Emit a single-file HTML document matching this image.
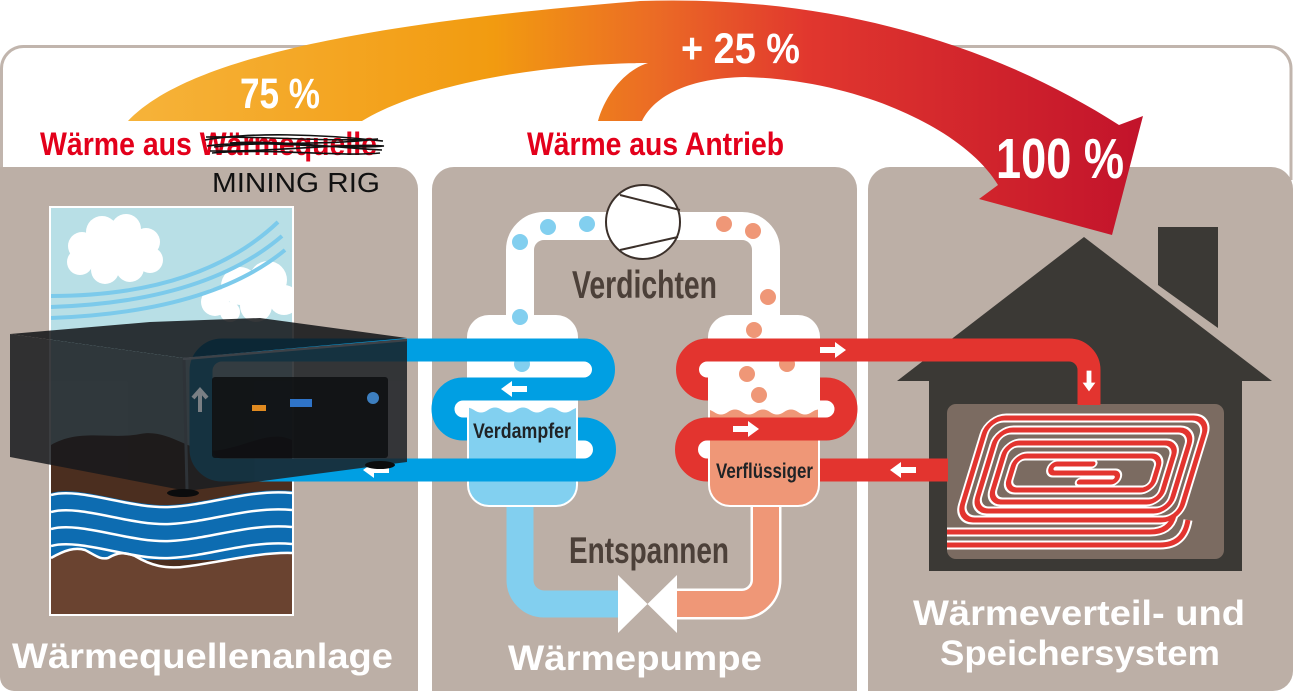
<!DOCTYPE html>
<html><head><meta charset="utf-8">
<style>html,body{margin:0;padding:0;background:#fff;overflow:hidden}svg{display:block}</style>
</head><body>
<svg width="1306" height="691" viewBox="0 0 1306 691" xmlns="http://www.w3.org/2000/svg">
<defs>
<linearGradient id="arc" x1="128" y1="0" x2="1143" y2="0" gradientUnits="userSpaceOnUse">
<stop offset="0" stop-color="#f6b33a"/>
<stop offset="0.36" stop-color="#f29b10"/>
<stop offset="0.52" stop-color="#eb6b25"/>
<stop offset="0.67" stop-color="#e1372e"/>
<stop offset="1" stop-color="#c2132b"/>
</linearGradient>
<clipPath id="pic"><rect x="51" y="208" width="241" height="406"/></clipPath>
<clipPath id="ev"><rect x="469" y="317" width="107" height="188" rx="20"/></clipPath>
<clipPath id="cd"><rect x="710" y="317" width="108" height="188" rx="20"/></clipPath>
<path id="ar" d="M-13 -3 H2 V-8 L13 0 L2 8 V3 H-13 Z" fill="#fff"/>
</defs>

<rect width="1306" height="691" fill="#fff"/>

<!-- outer frame line -->
<path d="M1.5 180 V68.5 A22 22 0 0 1 23.5 46.5 H1269 A22 22 0 0 1 1291 68.5 V180" fill="none" stroke="#c1b5ad" stroke-width="3"/>

<!-- panels -->
<path d="M0 167 H396 A22 22 0 0 1 418 189 V691 H14 A14 14 0 0 1 0 677 Z" fill="#bcafa6"/>
<path d="M432 189 A22 22 0 0 1 454 167 H835 A22 22 0 0 1 857 189 V691 H432 Z" fill="#bcafa6"/>
<path d="M868 189 A22 22 0 0 1 890 167 H1271 A22 22 0 0 1 1293 189 V671 A20 20 0 0 1 1273 691 H868 Z" fill="#bcafa6"/>

<!-- ===== Panel 1 picture ===== -->
<rect x="49" y="206" width="245" height="410" fill="#fff"/>
<g clip-path="url(#pic)">
<rect x="51" y="208" width="241" height="406" fill="#b8dfe6"/>
<g fill="#fff">
<circle cx="82" cy="246" r="14"/><circle cx="102" cy="232" r="16"/><circle cx="126" cy="229" r="15"/><circle cx="146" cy="242" r="14"/><circle cx="150" cy="260" r="13"/><circle cx="130" cy="268" r="14"/><circle cx="105" cy="270" r="14"/><circle cx="80" cy="262" r="13"/><rect x="82" y="238" width="66" height="30"/>
<circle cx="215" cy="302" r="14"/><circle cx="240" cy="286" r="19"/><circle cx="268" cy="280" r="19"/><circle cx="284" cy="300" r="15"/><circle cx="256" cy="306" r="16"/><circle cx="230" cy="312" r="10"/>
</g>
<g fill="none" stroke="#7ccaeb" stroke-width="4">
<path d="M51 296 Q200 296 278 222"/>
<path d="M51 307 Q205 302 282 236"/>
<path d="M51 318 Q210 312 285 250"/>
</g>
<path d="M51 445 C80 428 110 440 140 434 C170 428 190 455 220 450 C250 445 270 430 292 440 V614 H51 Z" fill="#4b2e1f"/>
<path d="M51 493 C80 485 130 507 170 505 S250 487 292 491 V560 H51 Z" fill="#0d6cb1"/>
<path d="M51 558 C65 550 75 547 85 550 C95 555 100 560 108 558 C118 552 125 552 135 556 C150 565 165 570 190 566 C220 562 260 552 292 553 V614 H51 Z" fill="#6a4330"/>
<g fill="none" stroke="#fff" stroke-width="2.5">
<path d="M51 495 C80 487 130 509 170 507 S250 489 292 493"/>
<path d="M51 512 C80 504 130 526 170 524 S250 506 292 510"/>
<path d="M51 529 C80 521 130 543 170 541 S250 523 292 527"/>
<path d="M51 546 C80 538 130 560 170 558 S250 540 292 544"/>
<path d="M51 558 C65 550 75 547 85 550 C95 555 100 560 108 558 C118 552 125 552 135 556 C150 565 165 570 190 566 C220 562 260 552 292 553"/>
</g>
</g>

<!-- ===== top white refrigerant loop ===== -->
<path d="M520 330 V250 A24 24 0 0 1 544 226 H742 A24 24 0 0 1 766 250 V330" fill="none" stroke="#fff" stroke-width="28"/>
<!-- bottom pipes -->
<path d="M520 495 V580 A24 24 0 0 0 544 604 H622" fill="none" stroke="#82cfef" stroke-width="27"/>
<path d="M766 495 V580 A24 24 0 0 1 742 604 H674" fill="none" stroke="#fff" stroke-width="31"/>
<path d="M766 495 V580 A24 24 0 0 1 742 604 H674" fill="none" stroke="#ef9777" stroke-width="26"/>
<!-- valve -->
<polygon points="618,575 618,633 647.5,604" fill="#fff"/>
<polygon points="677,575 677,633 647.5,604" fill="#fff"/>

<!-- white inner curve patches -->
<g fill="#fff">
<rect x="574" y="360" width="20" height="20"/>
<rect x="449" y="399" width="22" height="19"/>
<rect x="574" y="439" width="20" height="21"/>
<rect x="697" y="360" width="16" height="20"/>
<rect x="815" y="399" width="21" height="19"/>
<rect x="697" y="439" width="16" height="21"/>
</g>

<!-- blue evaporator pipe (full) -->
<path d="M222 350 H584 A19.5 19.5 0 0 1 584 389 H463 A20 20 0 0 0 463 429 H584 A20.5 20.5 0 0 1 584 470 H222 A21 21 0 0 1 201 449 V371 A21 21 0 0 1 222 350 Z" fill="none" stroke="#009fe3" stroke-width="23"/>
<use href="#ar" transform="translate(376,470) rotate(180)"/>

<!-- red condenser pipe (full) -->
<path d="M948 470 H707 A20.5 20.5 0 0 1 707 429 H826 A20 20 0 0 0 826 389 H707 A19.5 19.5 0 0 1 707 350 H1069 A20 20 0 0 1 1089 370 V405" fill="none" stroke="#e3342f" stroke-width="23"/>

<!-- vessels -->
<rect x="467" y="315" width="111" height="192" rx="22" fill="#fff"/>
<g clip-path="url(#ev)">
<path d="M460 410 q7 -5 14 0 t14 0 t14 0 t14 0 t14 0 t14 0 t14 0 t14 0 t14 0 V520 H460 Z" fill="#82d0f0"/>
</g>
<rect x="708" y="315" width="112" height="192" rx="22" fill="#fff"/>
<g clip-path="url(#cd)">
<path d="M700 412 q7 -5 14 0 t14 0 t14 0 t14 0 t14 0 t14 0 t14 0 t14 0 t14 0 t14 0 V520 H700 Z" fill="#ef9777"/>
</g>

<!-- dots -->
<g fill="#82cfef">
<circle cx="520" cy="242" r="8"/><circle cx="548" cy="227" r="8"/><circle cx="587" cy="224" r="8"/><circle cx="520" cy="317" r="8"/><circle cx="522" cy="364" r="8"/>
</g>
<g fill="#ef9777">
<circle cx="724" cy="224" r="8"/><circle cx="753" cy="231" r="8"/><circle cx="768" cy="297" r="8"/><circle cx="754" cy="330" r="8"/><circle cx="787" cy="364" r="8"/><circle cx="747" cy="374" r="8"/><circle cx="759" cy="395" r="8"/>
</g>

<!-- front pipe segments -->
<g fill="none" stroke="#009fe3" stroke-width="23">
<path d="M460 350 H585"/><path d="M463 389 H585"/><path d="M460 470 H585"/>
</g>
<g fill="none" stroke="#e3342f" stroke-width="23">
<path d="M706 350 H830"/><path d="M706 429 H827"/>
</g>

<!-- compressor -->
<circle cx="643" cy="222" r="37" fill="#fff" stroke="#3b302a" stroke-width="2"/>
<path d="M620 195 L680 210 M620 250 L678 237" stroke="#3b302a" stroke-width="2" fill="none"/>

<!-- arrows -->
<use href="#ar" transform="translate(514,389) rotate(180)"/>
<use href="#ar" transform="translate(833,350)"/>
<use href="#ar" transform="translate(746,429)"/>

<!-- ===== Panel 3 house ===== -->
<path d="M1084 237 L1272 381 L897 381 Z" fill="#3b3935"/>
<rect x="929" y="380" width="313" height="191" fill="#3b3935"/>
<polygon points="1158,227 1218,227 1218,328 1158,285" fill="#3b3935"/>
<rect x="947" y="404" width="277" height="155" rx="9" fill="#7b6b61"/>

<!-- spiral -->
<g fill="none" stroke-linecap="round">
<g transform="translate(0,480) skewX(-17) translate(0,-480)" stroke="#fff" stroke-width="9">
<rect x="970" y="418" width="220" height="102" rx="16"/>
<rect x="983" y="430" width="195" height="81" rx="14"/>
<rect x="996" y="443" width="170" height="59" rx="12"/>
<rect x="1009" y="456" width="145" height="34" rx="10"/>
<path d="M1088 464 H1052 A4.5 4.5 0 0 0 1052 473 H1112 A4.5 4.5 0 0 1 1112 482 H1080"/>
</g>
<path d="M947 532 H1150 Q1170 532 1174 515 M947 545 H1160 Q1184 545 1188 520" stroke="#fff" stroke-width="9" stroke-linecap="butt"/>
<g transform="translate(0,480) skewX(-17) translate(0,-480)" stroke="#e3342f" stroke-width="5">
<rect x="970" y="418" width="220" height="102" rx="16"/>
<rect x="983" y="430" width="195" height="81" rx="14"/>
<rect x="996" y="443" width="170" height="59" rx="12"/>
<rect x="1009" y="456" width="145" height="34" rx="10"/>
<path d="M1088 464 H1052 A4.5 4.5 0 0 0 1052 473 H1112 A4.5 4.5 0 0 1 1112 482 H1080"/>
</g>
<path d="M947 532 H1150 Q1170 532 1174 515 M947 545 H1160 Q1184 545 1188 520" stroke="#e3342f" stroke-width="5" stroke-linecap="butt"/>
</g>

<!-- red pipe into house (redraw over house) -->
<path d="M860 350 H1069 A20 20 0 0 1 1089 370 V405" fill="none" stroke="#e3342f" stroke-width="23"/>
<path d="M860 470 H948" fill="none" stroke="#e3342f" stroke-width="23"/>
<use href="#ar" transform="translate(1089,381) rotate(90) scale(0.8)"/>
<use href="#ar" transform="translate(903,470) rotate(180)"/>

<!-- ===== mining rig ===== -->
<g opacity="0.84">
<polygon points="10,334 183,358 187,491 10,457" fill="#16181b"/>
<polygon points="183,358 407,339 407,462 187,491" fill="#1a1e22"/>
<polygon points="10,334 150,322 260,318 407,338 183,358" fill="#0f1114"/>
</g>
<path d="M183 359 L407 340" stroke="#3d4248" stroke-width="2.5" fill="none"/>
<path d="M184 360 L187 490" stroke="#2e3338" stroke-width="3" fill="none"/>
<rect x="212" y="377" width="176" height="81" rx="3" fill="#0d0e10" opacity="0.85"/>
<rect x="252" y="405" width="14" height="6" fill="#e08a20"/>
<rect x="290" y="399" width="22" height="8" fill="#2f74c8"/>
<circle cx="373" cy="398" r="6" fill="#3d7fc0"/>
<path d="M200 412 V392 M193 398 L200 390 L207 398" stroke="#7a7f84" stroke-width="4" fill="none"/>
<ellipse cx="183" cy="493" rx="16" ry="4" fill="#0b0c0d"/>
<ellipse cx="380" cy="465" rx="15" ry="4" fill="#0b0c0d"/>

<!-- ===== big arc arrow ===== -->
<path d="M128 121 C175 72 300 28 640 1 C850 -6 1010 55 1119 125 L1143 116 L1112 235 L979 199 L998 185 C965 130 860 80 745 77 C690 78 655 95 642 121 L598 121 C605 95 625 70 648 63 C560 63 430 80 362 121 Z" fill="url(#arc)"/>

<!-- ===== texts ===== -->
<g font-family="'Liberation Sans Narrow','Liberation Sans',sans-serif" font-weight="bold">
<text x="240" y="108" font-size="43" fill="#fff" textLength="80" lengthAdjust="spacingAndGlyphs">75 %</text>
<text x="681" y="63" font-size="43" fill="#fff" textLength="119" lengthAdjust="spacingAndGlyphs">+ 25 %</text>
<text x="996" y="178" font-size="57" fill="#fff" textLength="128" lengthAdjust="spacingAndGlyphs">100 %</text>
<text x="40" y="155" font-size="32" fill="#e3001b" textLength="337" lengthAdjust="spacingAndGlyphs">Wärme aus Wärmequelle</text>
<text x="527" y="155" font-size="32" fill="#e3001b" textLength="257" lengthAdjust="spacingAndGlyphs">Wärme aus Antrieb</text>
<text x="572" y="298" font-size="39" fill="#4c4039" textLength="145" lengthAdjust="spacingAndGlyphs">Verdichten</text>
<text x="569" y="563" font-size="37" fill="#4c4039" textLength="160" lengthAdjust="spacingAndGlyphs">Entspannen</text>
<text x="473" y="438" font-size="21" fill="#1f2326" textLength="98" lengthAdjust="spacingAndGlyphs">Verdampfer</text>
<text x="716" y="478" font-size="21" fill="#1f2326" textLength="97" lengthAdjust="spacingAndGlyphs">Verflüssiger</text>
</g>
<!-- scribble -->
<g fill="none" stroke="#111" stroke-width="1.6">
<path d="M205 140 C250 132 320 134 383 141"/>
<path d="M207 146 C260 139 330 150 384 146 C340 143 280 152 210 151"/>
<path d="M212 153 C270 148 340 157 380 153"/>
<path d="M206 137 C260 136 330 142 378 139 C320 146 260 141 214 147"/>
<path d="M230 143 C280 140 340 148 382 150"/>
</g>
<text x="212" y="192" font-family="'Liberation Sans',sans-serif" font-size="28" fill="#111" textLength="168" lengthAdjust="spacingAndGlyphs">MINING RIG</text>

<g font-family="'Liberation Sans',sans-serif" font-weight="bold" fill="#fff">
<text x="12" y="668" font-size="35" textLength="381" lengthAdjust="spacingAndGlyphs">Wärmequellenanlage</text>
<text x="508" y="670" font-size="35" textLength="254" lengthAdjust="spacingAndGlyphs">Wärmepumpe</text>
<text x="913" y="625" font-size="35" textLength="332" lengthAdjust="spacingAndGlyphs">Wärmeverteil- und</text>
<text x="940" y="665" font-size="35" textLength="280" lengthAdjust="spacingAndGlyphs">Speichersystem</text>
</g>
</svg>
</body></html>
